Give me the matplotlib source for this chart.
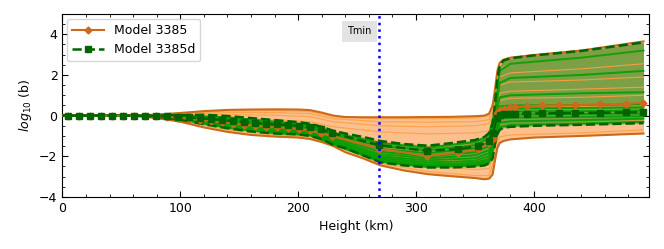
import matplotlib
matplotlib.use("Agg")
import matplotlib.pyplot as plt
import numpy as np
from matplotlib.ticker import AutoMinorLocator

# main model curves (marker grid, km)
height = [4.5, 14, 23, 32.5, 42, 51, 60.5, 70, 79, 88.5, 98, 107, 116.5, 126,
          135, 144.5, 154, 163, 172.5, 182, 191, 200.5, 210, 219, 228.5, 268.5,
          309, 336, 353, 361.5, 365.5, 368.5, 371, 374.5, 380, 384, 394, 407,
          421.5, 435, 456, 478, 493]
b_3385 = [0, 0, 0, 0, 0, 0, 0, -0.01, -0.03, -0.06, -0.1, -0.15, -0.21, -0.27,
          -0.33, -0.39, -0.45, -0.5, -0.55, -0.58, -0.61, -0.65, -0.73, -0.86,
          -1.0, -1.62, -1.98, -1.82, -1.65, -1.35, -1.15, 0.15, 0.28, 0.34, 0.4,
          0.42, 0.46, 0.5, 0.5, 0.51, 0.55, 0.58, 0.63]
b_3385d = [0, 0, 0, 0, 0, 0, 0, -0.01, -0.02, -0.04, -0.06, -0.09, -0.13, -0.17,
           -0.22, -0.27, -0.32, -0.36, -0.4, -0.43, -0.46, -0.5, -0.57, -0.68,
           -0.85, -1.45, -1.73, -1.65, -1.5, -1.25, -0.85, -0.1, 0.05, 0.08, 0.1,
           0.1, 0.1, 0.11, 0.12, 0.12, 0.14, 0.16, 0.17]

# envelopes (min / max over levels)
h_env = [0, 60, 80, 100, 120, 140, 160, 180, 200, 210, 220, 230, 240, 255, 270,
         290, 310, 330, 350, 358, 362, 365, 367, 369, 371, 374, 380, 400, 440, 493]
top_3385 = [0, 0, 0.05, 0.13, 0.22, 0.28, 0.3, 0.31, 0.3, 0.27, 0.15, 0.0, -0.07,
            -0.08, -0.08, -0.08, -0.07, -0.06, -0.03, 0.0, 0.1, 0.5, 1.3, 2.2, 2.6,
            2.75, 2.85, 2.98, 3.2, 3.65]
bot_3385 = [0, 0, -0.12, -0.3, -0.58, -0.8, -0.95, -1.03, -1.08, -1.15, -1.3, -1.5,
            -1.8, -2.1, -2.45, -2.7, -2.88, -2.98, -3.07, -3.13, -3.1, -2.9, -2.2,
            -1.6, -1.35, -1.25, -1.17, -1.08, -1.0, -0.88]
top_3385d = [0, 0, 0.0, 0.02, 0.04, -0.02, -0.12, -0.22, -0.32, -0.4, -0.55, -0.75,
             -0.88, -1.05, -1.25, -1.4, -1.48, -1.35, -1.2, -1.05, -0.85, -0.4, 0.6,
             1.8, 2.45, 2.7, 2.82, 2.96, 3.18, 3.6]
bot_3385d = [0, 0, -0.05, -0.2, -0.42, -0.62, -0.78, -0.88, -0.92, -1.0, -1.15, -1.45,
             -1.6, -1.95, -2.3, -2.45, -2.55, -2.55, -2.5, -2.45, -2.35, -2.1, -1.4,
             -0.9, -0.7, -0.6, -0.55, -0.5, -0.45, -0.37]

# individual levels (thin lines)
h_lev = [0, 60, 100, 140, 180, 210, 230, 270, 310, 350, 362, 367, 371, 380, 440, 493]
o1 = [0, 0, 0.1, 0.22, 0.25, 0.2, -0.05, -0.15, -0.15, -0.12, 0.0, 1.0, 2.3, 2.55, 2.85, 3.2]
o2 = [0, 0, 0.06, 0.15, 0.15, 0.1, -0.15, -0.3, -0.32, -0.3, -0.2, 0.7, 1.9, 2.1, 2.3, 2.55]
o3 = [0, 0, 0.02, 0.05, 0.02, -0.05, -0.3, -0.5, -0.55, -0.5, -0.4, 0.4, 1.5, 1.65, 1.75, 1.9]
o4 = [0, 0, -0.03, -0.1, -0.2, -0.3, -0.55, -0.8, -0.9, -0.85, -0.75, 0.1, 1.1, 1.2, 1.3, 1.4]
o5 = [0, 0, -0.08, -0.3, -0.45, -0.55, -0.8, -1.3, -1.5, -1.45, -1.3, -0.4, 0.75, 0.85, 0.9, 1.0]
o6 = [0, 0, -0.12, -0.45, -0.65, -0.75, -1.0, -1.9, -2.2, -2.2, -2.1, -1.0, 0.3, 0.4, 0.45, 0.5]
o7 = [0, 0, -0.18, -0.55, -0.8, -0.9, -1.2, -2.1, -2.5, -2.65, -2.6, -1.7, -0.5, -0.45, -0.35, -0.25]
o8 = [0, 0, -0.25, -0.7, -0.95, -1.05, -1.4, -2.35, -2.75, -2.95, -2.95, -2.0, -1.05, -0.95, -0.85, -0.7]
g1 = [0, 0, 0.0, -0.08, -0.3, -0.48, -0.85, -1.35, -1.58, -1.3, -0.95, 0.3, 2.2, 2.55, 2.85, 3.2]
g2 = [0, 0, -0.03, -0.15, -0.4, -0.55, -0.95, -1.5, -1.7, -1.45, -1.1, 0.0, 1.6, 1.85, 2.0, 2.2]
g3 = [0, 0, -0.05, -0.22, -0.48, -0.63, -1.05, -1.65, -1.85, -1.6, -1.3, -0.3, 0.9, 1.0, 1.1, 1.15]
g4 = [0, 0, -0.07, -0.3, -0.55, -0.7, -1.12, -1.78, -2.0, -1.8, -1.5, -0.5, 0.45, 0.5, 0.52, 0.55]
g5 = [0, 0, -0.09, -0.36, -0.62, -0.75, -1.2, -1.9, -2.1, -1.95, -1.7, -0.7, 0.3, 0.35, 0.38, 0.4]
g6 = [0, 0, -0.11, -0.42, -0.68, -0.8, -1.26, -2.0, -2.2, -2.1, -1.85, -0.85, 0.15, 0.2, 0.22, 0.25]
g7 = [0, 0, -0.13, -0.48, -0.73, -0.85, -1.32, -2.08, -2.3, -2.22, -2.0, -1.0, 0.0, 0.05, 0.08, 0.1]
g8 = [0, 0, -0.15, -0.53, -0.78, -0.9, -1.37, -2.15, -2.4, -2.32, -2.12, -1.15, -0.15, -0.1, -0.06, -0.03]
g9 = [0, 0, -0.17, -0.57, -0.82, -0.94, -1.41, -2.22, -2.47, -2.4, -2.22, -1.28, -0.35, -0.28, -0.22, -0.15]
g10 = [0, 0, -0.19, -0.6, -0.86, -0.97, -1.43, -2.27, -2.52, -2.46, -2.3, -1.35, -0.55, -0.45, -0.38, -0.3]
levels_3385 = [o1, o2, o3, o4, o5, o6, o7, o8]
levels_3385d = [g1, g2, g3, g4, g5, g6, g7, g8, g9, g10]

t_min = 268.5

ORANGE = '#cc6a1a'
DGREEN = '#006400'

fig = plt.figure(figsize=(6.64, 2.49), dpi=100)
ax = fig.add_axes([0.094, 0.209, 0.884, 0.735])

# orange band
ax.fill_between(h_env, bot_3385, top_3385, color='#fcbf8e', lw=0, zorder=1)
# green band on top
ax.fill_between(h_env, bot_3385d, top_3385d, color='green', alpha=0.5, lw=0, zorder=2)
for lev in levels_3385:
    ax.plot(h_lev, lev, color='#ffa040', lw=0.8, alpha=0.9, zorder=3)
for lev in levels_3385d:
    ax.plot(h_lev, lev, color='#00a000', lw=1.4, alpha=0.9, zorder=4)

ax.plot(h_env, top_3385, color=ORANGE, lw=1.5, zorder=5)
ax.plot(h_env, bot_3385, color=ORANGE, lw=1.5, zorder=5)
ax.plot(h_env, top_3385d, color=DGREEN, lw=1.8, ls='--', zorder=6)
ax.plot(h_env, bot_3385d, color=DGREEN, lw=1.8, ls='--', zorder=6)

ax.plot(height, b_3385, color=ORANGE, lw=1.5, marker='D', ms=3.5, zorder=7,
        label='Model 3385')
ax.plot(height, b_3385d, color=DGREEN, lw=1.8, ls='--', marker='s', ms=4.5,
        zorder=8, label='Model 3385d')

ax.axvline(t_min, color='blue', ls=':', lw=1.8, zorder=9)
ax.text(t_min - 6, 4.15, 'Tmin', fontsize=7, ha='right', va='center',
        bbox=dict(facecolor='#e3e3e3', edgecolor='none', pad=4), zorder=10)

ax.set_xlim(0, 498)
ax.set_ylim(-4, 5)
ax.set_yticks([-4, -2, 0, 2, 4])
ax.xaxis.set_minor_locator(AutoMinorLocator(5))
ax.yaxis.set_minor_locator(AutoMinorLocator(4))
ax.tick_params(which='both', direction='in', top=True, right=True, labelsize=9)
ax.tick_params(which='major', length=4)
ax.tick_params(which='minor', length=2)
ax.set_xlabel('Height (km)', fontsize=9)
ax.set_ylabel('$log_{10}$ (b)', fontsize=9)
ax.legend(loc='upper left', fontsize=9, handlelength=2.5, borderaxespad=0.4)

fig.savefig('out.png', dpi=100)
